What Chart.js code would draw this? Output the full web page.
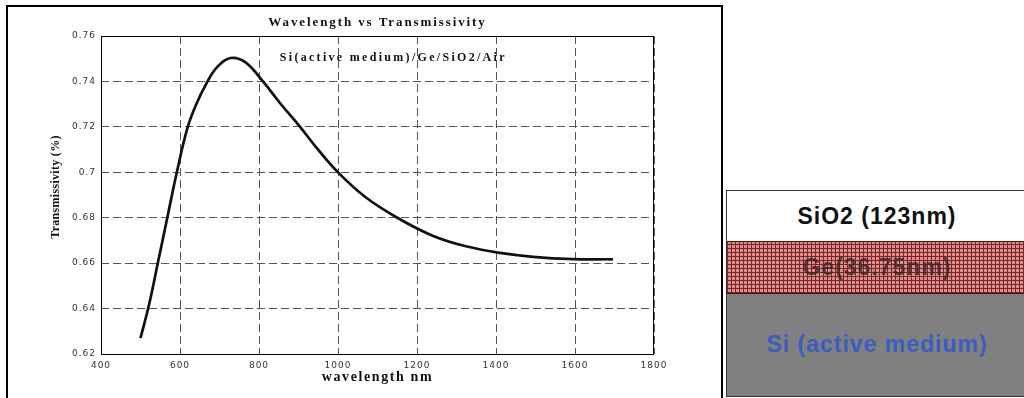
<!DOCTYPE html>
<html>
<head>
<meta charset="utf-8">
<script src="https://cdn.jsdelivr.net/npm/chart.js@4.4.1/dist/chart.umd.min.js"></script>
<style>
    html, body { margin: 0; padding: 0; background: #fff; width: 1024px; height: 398px; overflow: hidden; }
    #frame { position: absolute; left: 6px; top: 5px; width: 713px; height: 420px; border: 2px solid #000; border-bottom: none; }
    #wrap { position: absolute; left: 0; top: 0; width: 724px; height: 398px; }
    #stack { position: absolute; left: 726px; top: 190px; width: 300px; height: 205px; border: 1px solid #333; border-right: none; font-family: "Liberation Sans", Arial, sans-serif; font-weight: bold; text-align: center; }
    .layer { position: relative; box-sizing: border-box; }
    #sio2 { height: 51px; background: #fff; color: #111; font-size: 23px; line-height: 51px; letter-spacing: 1px; border-bottom: 1px solid #4a1a1a; }
    #ge { height: 52px; line-height: 51px; font-size: 23px; letter-spacing: 1px; color: rgba(55, 35, 35, 0.8); border-bottom: 1px solid #3a1010;
          background-color: #cf9292;
          background-image: repeating-linear-gradient(0deg, #8a1f1f 0 1px, transparent 1px 4px),
                            repeating-linear-gradient(90deg, #8a1f1f 0 1px, transparent 1px 4px); }
    #si { height: 102px; background: #808080; color: #3c5cbf; font-size: 23px; line-height: 100px; letter-spacing: 1px; }
</style>
</head>
<body>
<div id="frame"></div>
<div id="wrap"><canvas id="chart" width="724" height="398"></canvas></div>
<div id="stack">
    <div class="layer" id="sio2">SiO2 (123nm)</div>
    <div class="layer" id="ge">Ge(36.75nm)</div>
    <div class="layer" id="si">Si (active medium)</div>
</div>
<script>
// wavelength (nm) and transmissivity
const wavelengths = [500, 522, 545, 569, 592, 618, 640, 668, 695, 728, 765, 810, 853, 904, 947, 1000, 1070, 1150, 1241, 1327, 1410, 1494, 1595, 1696];
const transmissivity = [0.627, 0.642, 0.661, 0.681, 0.700, 0.719, 0.7295, 0.7395, 0.7465, 0.7503, 0.7485, 0.740, 0.7305, 0.720, 0.7105, 0.700, 0.689, 0.680, 0.672, 0.6673, 0.6645, 0.6628, 0.6618, 0.6617];

const xTicks = [400, 600, 800, 1000, 1200, 1400, 1600, 1800];
const yTicks = [0.62, 0.64, 0.66, 0.68, 0.7, 0.72, 0.74, 0.76];

const chartTitle = 'Wavelength vs Transmissivity';
const structureLabel = 'Si(active medium)/Ge/SiO2/Air';
const structureLabelAt = [1140, 0.7503];
const xTitle = 'wavelength nm';
const yTitle = 'Transmissivity (%)';

const serif = '"Liberation Serif", "Times New Roman", serif';

const points = wavelengths.map((w, i) => ({ x: w, y: transmissivity[i] }));

// frame around plot area plus the hand-placed texts
const decorations = {
    id: 'decorations',
    beforeDraw(chart) {
        chart.ctx.letterSpacing = '1px';
    },
    afterDraw(chart) {
        const { ctx, chartArea: a, scales } = chart;
        ctx.save();
        ctx.letterSpacing = '0px';
        ctx.setLineDash([]);
        ctx.strokeStyle = '#000';
        ctx.lineWidth = 1;
        ctx.strokeRect(a.left + 0.5, a.top + 0.5, a.right - a.left - 1, a.bottom - a.top);

        ctx.fillStyle = '#111';
        ctx.textAlign = 'center';
        ctx.textBaseline = 'middle';
        const cx = (a.left + a.right) / 2;

        ctx.letterSpacing = '1.9px';
        ctx.font = 'bold 13px ' + serif;
        ctx.fillText(chartTitle, cx, a.top - 13);

        ctx.letterSpacing = '2.3px';
        ctx.font = 'bold 12px ' + serif;
        ctx.fillText(structureLabel, scales.x.getPixelForValue(structureLabelAt[0]), scales.y.getPixelForValue(structureLabelAt[1]));

        ctx.letterSpacing = '1.6px';
        ctx.font = 'bold 14px ' + serif;
        ctx.fillText(xTitle, cx, a.bottom + 23);

        ctx.letterSpacing = '0.3px';
        ctx.font = 'bold 12px ' + serif;
        ctx.translate(a.left - 45, (a.top + a.bottom) / 2 - 8);
        ctx.rotate(-Math.PI / 2);
        ctx.fillText(yTitle, 0, 0);
        ctx.restore();
    }
};

new Chart(document.getElementById('chart'), {
    type: 'line',
    data: {
        datasets: [{
            data: points,
            borderColor: '#111',
            borderWidth: 2.7,
            pointRadius: 0,
            fill: false,
            tension: 0.4
        }]
    },
    options: {
        responsive: false,
        animation: false,
        events: [],
        layout: { padding: { top: 36, right: 70, left: 0, bottom: 0 } },
        plugins: { legend: { display: false }, tooltip: { enabled: false } },
        scales: {
            x: {
                type: 'linear',
                min: xTicks[0],
                max: xTicks[xTicks.length - 1],
                afterFit: s => { s.height = 44; },
                afterBuildTicks: s => { s.ticks = xTicks.map(v => ({ value: v })); },
                border: { display: false, dash: [8, 4] },
                grid: { color: '#555', lineWidth: 1, drawTicks: false },
                ticks: {
                    color: '#333',
                    padding: 6,
                    maxRotation: 0,
                    font: { family: '"DejaVu Sans", sans-serif', size: 9 },
                    callback: v => String(v)
                }
            },
            y: {
                min: yTicks[0],
                max: yTicks[yTicks.length - 1],
                afterFit: s => { s.width = 101; },
                afterBuildTicks: s => { s.ticks = yTicks.map(v => ({ value: v })); },
                border: { display: false, dash: [8, 4] },
                grid: { color: '#555', lineWidth: 1, drawTicks: false },
                ticks: {
                    color: '#333',
                    padding: 5,
                    font: { family: '"DejaVu Sans", sans-serif', size: 9 },
                    callback: v => String(parseFloat(v.toFixed(2)))
                }
            }
        }
    },
    plugins: [decorations]
});
</script>
</body>
</html>
